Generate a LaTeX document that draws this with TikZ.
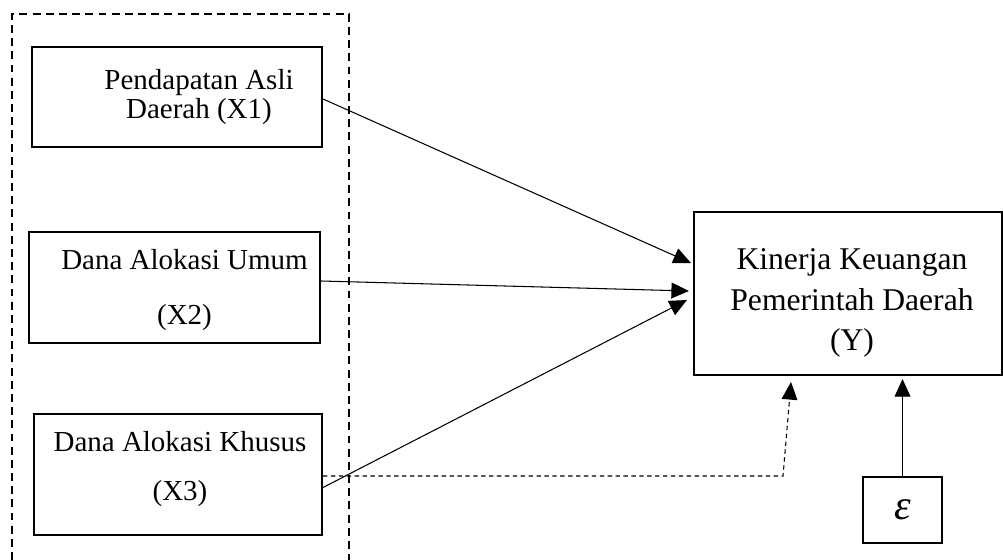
\documentclass[tikz,border=0pt]{standalone}
\usepackage{amsmath}
\usepackage{fontspec}
\setmainfont{Liberation Serif}
\usetikzlibrary{arrows.meta,positioning,calc}

\begin{document}
\begin{tikzpicture}[x=0.02cm, y=-0.02cm,
    box/.style={draw, line width=1.2pt, inner sep=0pt},
    lbl/.style={align=center, inner sep=0pt},
    path/.style={line width=0.6pt, -{Triangle[length=10pt, width=9pt]}},
    frame/.style={line width=1.1pt, dash pattern=on 4.5pt off 3pt}]
  \useasboundingbox (0,0) rectangle (1003,560);

  % Dashed frame round the independent variables
  \draw[frame] (12,560) -- (12,14) -- (349,14) -- (349,560);

  % Boxes
  \node[box, minimum width=5.8cm,  minimum height=2.0cm]  (x1) at (177,97) {};
  \node[box, minimum width=5.82cm, minimum height=2.22cm] (x2) at (174.5,287.5) {};
  \node[box, minimum width=5.76cm, minimum height=2.42cm] (x3) at (178,474.5) {};
  \node[box, minimum width=6.16cm, minimum height=3.26cm] (y)  at (848,293.5) {};
  \node[box, minimum width=1.58cm, minimum height=1.32cm] (eps) at (902.5,510)
    {\fontsize{24}{26}\selectfont\itshape ε};

  % Labels
  \node[lbl, font=\fontsize{16.5}{17}\selectfont] (x1t) at (199,97)
    {Pendapatan Asli\\Daerah (X1)};
  \node[lbl, font=\fontsize{16.5}{31}\selectfont] (x2t) at (184.5,290)
    {Dana Alokasi Umum\\(X2)};
  \node[lbl, font=\fontsize{16.5}{28}\selectfont] (x3t) at (180,469)
    {Dana Alokasi Khusus\\(X3)};
  \node[lbl, font=\fontsize{18}{23}\selectfont] (yt) at (852,303)
    {Kinerja Keuangan\\Pemerintah Daerah\\(Y)};

  % Paths
  \draw[path] ([yshift=-0.04cm]x1.east) -- ([xshift=-0.04cm, yshift=0.61cm]y.west);
  \draw[path] ([yshift=0.13cm]x2.east) -- ([xshift=-0.08cm, yshift=0.05cm]y.west);
  \draw[path] ([yshift=-0.26cm]x3.east) -- ([xshift=-0.12cm, yshift=-0.13cm]y.west);
  \coordinate (bend) at (783,476);
  \draw[path, dash pattern=on 2.5pt off 2pt]
    ([yshift=-0.03cm]x3.east) -- (bend) -- ([xshift=-1.14cm, yshift=-0.12cm]y.south);
  \draw[path] (eps.north) -- ([yshift=-0.06cm]eps.north |- y.south);
\end{tikzpicture}
\end{document}
